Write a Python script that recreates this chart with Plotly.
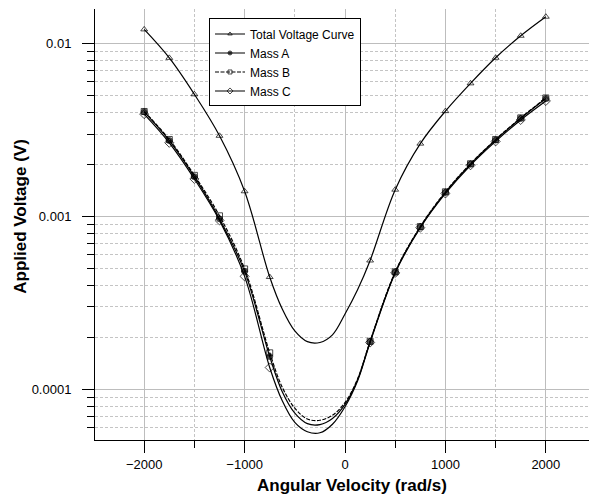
import plotly.graph_objects as go

# Angular velocity samples (rad/s)
omega = [-2000, -1750, -1500, -1250, -1000, -750, -625, -500, -375, -250, -125, 0,
         125, 250, 500, 750, 1000, 1250, 1500, 1750, 2000]
# Samples drawn on the curve without a symbol
omega_no_symbol = [-625, -500, -375, -250, -125, 0, 125]

# Applied voltage (V)
v_total = [0.01208, 0.00827, 0.00509, 0.00293, 0.00140, 0.000447, 0.000292, 0.000218, 0.000189,
           0.000187, 0.000207, 0.000273, 0.000377, 0.000557, 0.00143, 0.00264, 0.00407,
           0.00589, 0.00828, 0.0111, 0.0143]
v_mass_a = [0.00403, 0.00275, 0.00170, 0.00097, 0.000482, 0.000155, 0.0000970, 0.0000730, 0.0000635,
            0.0000627, 0.0000680, 0.0000820, 0.000114, 0.000189, 0.000477, 0.000870, 0.00138,
            0.00201, 0.00277, 0.00370, 0.00482]
v_mass_b = [0.00405, 0.00279, 0.00173, 0.00101, 0.000498, 0.000163, 0.000103, 0.0000780, 0.0000675,
            0.0000664, 0.0000710, 0.0000840, 0.000115, 0.000190, 0.000479, 0.000875, 0.00139,
            0.00202, 0.00279, 0.00372, 0.00485]
v_mass_c = [0.00391, 0.00267, 0.00165, 0.00095, 0.000451, 0.000134, 0.0000860, 0.0000645, 0.0000570,
            0.0000562, 0.0000630, 0.0000795, 0.000112, 0.000187, 0.000472, 0.000862, 0.00136,
            0.00198, 0.00272, 0.00362, 0.00466]

series = [
    ("Total Voltage Curve", v_total, "triangle-up-open", 6, "solid"),
    ("Mass A", v_mass_a, "circle", 6, "solid"),
    ("Mass B", v_mass_b, "square-open", 6, "4px,1.5px"),
    ("Mass C", v_mass_c, "diamond-open", 7, "solid"),
]

fig = go.Figure()
for name, values, symbol, size, dash in series:
    sizes = [0 if w in omega_no_symbol else size for w in omega]
    fig.add_trace(go.Scatter(
        x=omega, y=values, name=name, mode="lines+markers",
        line=dict(color="black", width=1.2, shape="spline", smoothing=1.0, dash=dash),
        marker=dict(symbol=symbol, size=sizes, color="black",
                    line=dict(color="black", width=1)),
    ))

font_family = "Liberation Sans, Arial, Helvetica, sans-serif"

decades = [1e-5, 1e-4, 1e-3, 1e-2]
minor_vals = [d * k for d in decades for k in range(2, 10)]

# Axis titles placed as paper-anchored annotations
fig.add_annotation(text="<b>Angular Velocity (rad/s)</b>", xref="paper", yref="paper",
                   x=0.52, y=-0.106, xanchor="center", yanchor="middle",
                   showarrow=False, font=dict(size=17))
fig.add_annotation(text="<b>Applied Voltage (V)</b>", xref="paper", yref="paper",
                   x=-0.150, y=0.52, xanchor="center", yanchor="middle", textangle=-90,
                   showarrow=False, font=dict(size=17))

fig.update_layout(
    width=589, height=498,
    margin=dict(l=95, r=0, t=9, b=58),
    paper_bgcolor="white", plot_bgcolor="white",
    font=dict(family=font_family, size=13, color="black"),
    showlegend=True,
    legend=dict(
        x=0.2308, y=0.978, xanchor="left", yanchor="top",
        bgcolor="white", bordercolor="black", borderwidth=1,
        font=dict(size=12, family=font_family), tracegroupgap=0,
        itemwidth=30,
    ),
    xaxis=dict(
        range=[-2490, 2430],
        tickmode="array", tickvals=[-2000, -1000, 0, 1000, 2000],
        ticks="outside", ticklen=12, tickcolor="black", tickwidth=1,
        showline=True, linecolor="black", linewidth=1,
        showgrid=True, gridcolor="#bdbdbd", gridwidth=1.2,
        zeroline=False,
        minor=dict(tickvals=[-1500, -500, 500, 1500], ticks="outside", ticklen=7,
                   tickcolor="black", showgrid=True, gridcolor="#c4c4c4",
                   griddash="3px,2px", gridwidth=1),
    ),
    yaxis=dict(
        type="log", range=[-4.292, -1.80],
        tickmode="array", tickvals=[1e-4, 1e-3, 1e-2], ticktext=["0.0001", "0.001", "0.01"],
        ticks="outside", ticklen=12, tickcolor="black", tickwidth=1, ticklabelstandoff=8,
        showline=True, linecolor="black", linewidth=1,
        showgrid=True, gridcolor="#bdbdbd", gridwidth=1.2,
        zeroline=False,
        minor=dict(tickvals=minor_vals, ticks="outside", ticklen=7,
                   tickcolor="black", showgrid=True, gridcolor="#c4c4c4",
                   griddash="3px,2px", gridwidth=1),
    ),
)

fig.write_html("out.html")
